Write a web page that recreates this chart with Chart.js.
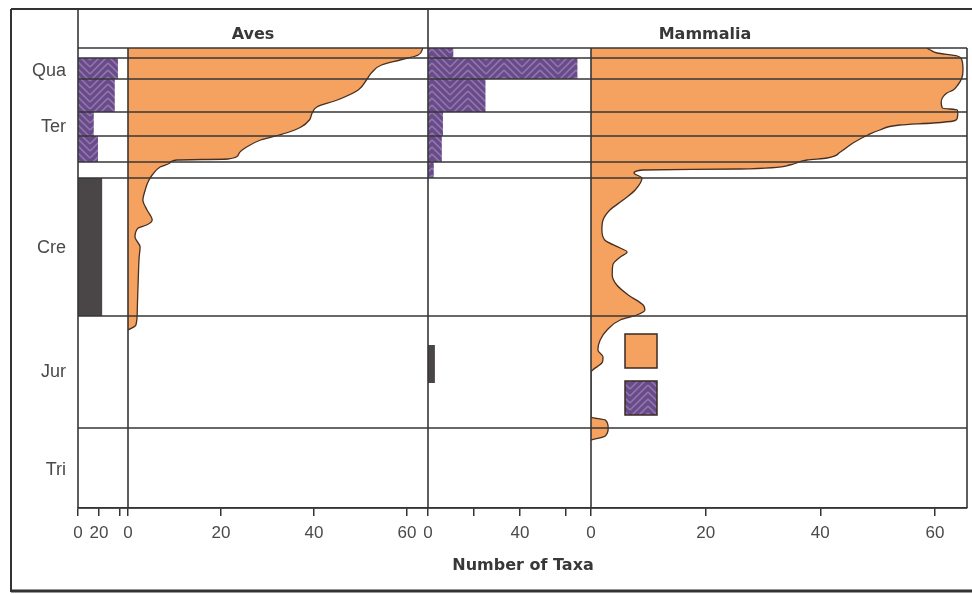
<!DOCTYPE html>
<html><head><meta charset="utf-8">
<script src="https://cdn.jsdelivr.net/npm/chart.js@4/dist/chart.umd.min.js"></script>
<style>
html,body{margin:0;padding:0;background:#fff;}
#wrap{position:relative;width:972px;height:594px;background:#fff;}
#wrap canvas{position:absolute;left:0;top:0;}
</style></head><body>
<div id="wrap">
<canvas id="c1" width="972" height="594"></canvas>
<canvas id="c2" width="972" height="594"></canvas>
<canvas id="c3" width="972" height="594"></canvas>
<canvas id="c4" width="972" height="594"></canvas>
</div>
<script>
// ---------------- data ----------------
const periodNames = ['Qua', 'Ter', 'Cre', 'Jur', 'Tri'];
const periodLabelLevels = [23, 79, 200, 324, 422];
// stratigraphic row boundaries (arbitrary level units, top = 0)
const rowEdges = [0, 10, 31, 64, 88, 114, 130, 268, 380, 460];

// bar-type series per row
const avesHatchedTaxa = [0, 38, 35, 15, 19, 0, 0, 0, 0];
const avesDarkTaxa    = [0, 0, 0, 0, 0, 0, 23, 0, 0];
const mammHatchedTaxa = [11, 65, 25, 6.5, 6, 2.5, 0, 0, 0];
const mammDarkFrom = [297];
const mammDarkTo   = [335];
const mammDarkTaxa = [3];

// spindle outlines
const avesLevels = [0, 7, 12, 17, 24, 31, 42, 52, 59, 65, 72, 79, 85, 92, 99, 106, 111, 112, 115, 119, 127, 134, 142, 152, 162, 172, 177, 180, 189, 199, 209, 232, 262, 277, 282];
const avesTaxa   = [63.4, 62.4, 58.5, 54.5, 52.5, 51.4, 49.5, 45, 40.6, 39.6, 39, 37.2, 34, 28.5, 25.5, 23.8, 21.5, 10.5, 9, 6.9, 5.2, 4.3, 3.7, 3.2, 4.1, 5.2, 4.0, 2.2, 1.5, 2.6, 2.4, 2.2, 2.0, 1.7, 0];
const mammLevels = [0, 2, 5, 8, 12, 22, 30, 37, 42, 45, 49, 54, 60, 62, 65, 70, 73, 75, 77, 82, 87, 95, 104, 110, 112, 117, 121, 122, 125, 130, 142, 152, 162, 172, 182, 192, 200, 204, 209, 217, 227, 237, 247, 257, 262, 267, 272, 282, 292, 302, 309, 314, 322, 324, 369, 372, 380, 388, 392];
const mammTaxa   = [58.6, 59.2, 60.4, 63.9, 64.7, 64.9, 64.7, 64.0, 63.2, 62.1, 61.4, 61.1, 61.3, 63.9, 64.0, 63.9, 63.2, 59.7, 53.9, 50.4, 48.3, 45.7, 43.5, 41.2, 37.7, 34.7, 26.0, 9.0, 7.5, 8.9, 7.7, 5.6, 3.3, 2.1, 1.9, 2.4, 5.1, 6.3, 5.1, 3.8, 3.7, 4.5, 6.5, 9.1, 9.4, 8.0, 5.1, 2.8, 1.6, 1.2, 2.1, 2.0, 0.3, 0, 0, 2.5, 3.0, 2.5, 0];

// axis ticks
const avesSmallTicks = [0, 20, 40];
const avesSmallLabels = ['0', '20', ''];
const avesTicks = [0, 20, 40, 60];
const avesLabels = ['0', '20', '40', '60'];
const mammSmallTicks = [0, 20, 40, 60];
const mammSmallLabels = ['0', '', '40', ''];
const mammTicks = [0, 20, 40, 60];
const mammLabels = ['0', '20', '40', '60'];

// ---------------- style ----------------
const W = 972, H = 594, TOP = 48, BOTTOM = 508;
const ORANGE = '#f5a261', OUTLINE = '#4a2f1f', DARK = '#4a4547', LINE = '#363636';
const TICKFONT = {family: '"Liberation Sans Narrow", "Arial Narrow", "Liberation Sans", sans-serif', size: 17};

function makeHatch() {
  const c = document.createElement('canvas'); c.width = 36; c.height = 14;
  const g = c.getContext('2d');
  g.fillStyle = '#694a8a'; g.fillRect(0, 0, 36, 14);
  g.strokeStyle = '#9077aa'; g.lineWidth = 1.6;
  for (let k = -28; k <= 28; k += 7) { g.beginPath(); g.moveTo(0, k); g.lineTo(18, k + 18); g.stroke(); }
  for (let k = -28; k <= 42; k += 7) { g.beginPath(); g.moveTo(18, k + 18); g.lineTo(36, k); g.stroke(); }
  return g.createPattern(c, 'repeat');
}
const HATCH = makeHatch();

function stepPoints(values) {
  const pts = [];
  values.forEach((v, i) => { pts.push({x: v, y: rowEdges[i]}); pts.push({x: v, y: rowEdges[i + 1]}); });
  return pts;
}
function rangePoints(from, to, vals) {
  const pts = [];
  vals.forEach((v, i) => { pts.push({x: 0, y: from[i]}, {x: v, y: from[i]}, {x: v, y: to[i]}, {x: 0, y: to[i]}); });
  return pts;
}
function outline(levels, taxa) { return levels.map((l, i) => ({x: taxa[i], y: l})); }

const barDs = (pts, bg) => ({data: pts, backgroundColor: bg, borderColor: 'rgba(0,0,0,0)', borderWidth: 0, fill: 'origin', tension: 0, pointRadius: 0});
const spindleDs = (pts) => ({data: pts, backgroundColor: ORANGE, borderColor: OUTLINE, borderWidth: 1.3, fill: 'origin', cubicInterpolationMode: 'monotone', pointRadius: 0});

// frame plugin: row lines and panel edges
const framePlugin = {
  id: 'frame',
  afterDatasetsDraw(chart, args, opts) {
    const {ctx, chartArea: a, scales: {y}} = chart;
    ctx.save();
    ctx.strokeStyle = LINE; ctx.lineWidth = 1.6;
    rowEdges.forEach(l => {
      const py = y.getPixelForValue(l);
      ctx.beginPath(); ctx.moveTo(a.left, py); ctx.lineTo(a.right, py); ctx.stroke();
    });
    ctx.beginPath(); ctx.moveTo(a.left, opts.leftTop != null ? opts.leftTop : a.top); ctx.lineTo(a.left, a.bottom); ctx.stroke();
    if (opts.rightEdge) { ctx.beginPath(); ctx.moveTo(a.right, a.top); ctx.lineTo(a.right, a.bottom); ctx.stroke(); }
    ctx.restore();
  }
};

// outer decoration plugin: frame, titles
const decoPlugin = {
  id: 'deco',
  afterDraw(chart) {
    const ctx = chart.ctx;
    ctx.save();
    ctx.strokeStyle = '#333'; ctx.lineWidth = 2;
    ctx.beginPath(); ctx.moveTo(11, 9); ctx.lineTo(972, 9); ctx.stroke();
    ctx.beginPath(); ctx.moveTo(11, 9); ctx.lineTo(11, 592); ctx.stroke();
    ctx.lineWidth = 3;
    ctx.beginPath(); ctx.moveTo(11, 591); ctx.lineTo(972, 591); ctx.stroke();
    ctx.fillStyle = '#383838';
    ctx.font = 'bold 16px "DejaVu Sans", sans-serif';
    ctx.textAlign = 'center'; ctx.textBaseline = 'alphabetic';
    ctx.fillText('Aves', 253, 39);
    ctx.fillText('Mammalia', 705, 39);
    ctx.fillText('Number of Taxa', 523, 570);
    ctx.restore();
  }
};

// legend swatches
const legendPlugin = {
  id: 'swatches',
  afterDraw(chart) {
    const ctx = chart.ctx;
    ctx.save();
    ctx.strokeStyle = '#3a2a22'; ctx.lineWidth = 1.5;
    ctx.fillStyle = ORANGE; ctx.fillRect(625, 334, 32, 34); ctx.strokeRect(625, 334, 32, 34);
    ctx.fillStyle = HATCH; ctx.fillRect(625, 381, 32, 34); ctx.strokeRect(625, 381, 32, 34);
    ctx.restore();
  }
};

function makeChart(id, cfg) {
  return new Chart(document.getElementById(id), {
    type: 'line',
    data: {datasets: cfg.datasets},
    options: {
      responsive: false, animation: false, devicePixelRatio: 1,
      indexAxis: 'y',
      layout: {padding: {left: cfg.showY ? 0 : cfg.left, right: W - cfg.right, top: TOP, bottom: 0}},
      plugins: {legend: {display: false}, tooltip: {enabled: false},
        frame: {leftTop: cfg.leftTop, rightEdge: cfg.rightEdge}},
      scales: {
        x: {
          type: 'linear', position: 'bottom', bounds: 'data', min: 0, max: cfg.xMax,
          afterFit: s => { s.height = H - BOTTOM; },
          afterBuildTicks: s => { s.ticks = cfg.ticks.map(v => ({value: v})); },
          ticks: {autoSkip: false, maxRotation: 0, font: TICKFONT, color: '#4a4a4a', padding: 7,
            callback: (v, i) => cfg.labels[i]},
          grid: {display: true, drawOnChartArea: false, drawTicks: true, tickLength: 8, color: '#333', lineWidth: 1.5},
          border: {display: true, color: '#333', width: 1.6}
        },
        y: {
          type: 'linear', reverse: true, bounds: 'data', min: 0, max: 460,
          display: !!cfg.showY,
          afterFit: s => { if (cfg.showY) s.width = cfg.left; },
          afterBuildTicks: s => { s.ticks = periodLabelLevels.map(v => ({value: v})); },
          ticks: {autoSkip: false, font: {family: TICKFONT.family, size: 18}, color: '#4a4a4a', padding: 12,
            callback: (v, i) => periodNames[i]},
          grid: {display: false, drawTicks: false},
          border: {display: false}
        }
      }
    },
    plugins: cfg.plugins
  });
}

makeChart('c1', {left: 78, right: 128, xMax: 47.6, showY: true, leftTop: 9,
  ticks: avesSmallTicks, labels: avesSmallLabels,
  datasets: [barDs(stepPoints(avesHatchedTaxa), HATCH), barDs(stepPoints(avesDarkTaxa), DARK)],
  plugins: [framePlugin, decoPlugin]});

makeChart('c2', {left: 128, right: 428, xMax: 64.5,
  ticks: avesTicks, labels: avesLabels,
  datasets: [spindleDs(outline(avesLevels, avesTaxa))],
  plugins: [framePlugin]});

makeChart('c3', {left: 428, right: 591, xMax: 70.9, leftTop: 9,
  ticks: mammSmallTicks, labels: mammSmallLabels,
  datasets: [barDs(stepPoints(mammHatchedTaxa), HATCH), barDs(rangePoints(mammDarkFrom, mammDarkTo, mammDarkTaxa), DARK)],
  plugins: [framePlugin]});

makeChart('c4', {left: 591, right: 967, xMax: 65.6, rightEdge: true,
  ticks: mammTicks, labels: mammLabels,
  datasets: [spindleDs(outline(mammLevels, mammTaxa))],
  plugins: [framePlugin, legendPlugin]});
</script>
</body></html>
